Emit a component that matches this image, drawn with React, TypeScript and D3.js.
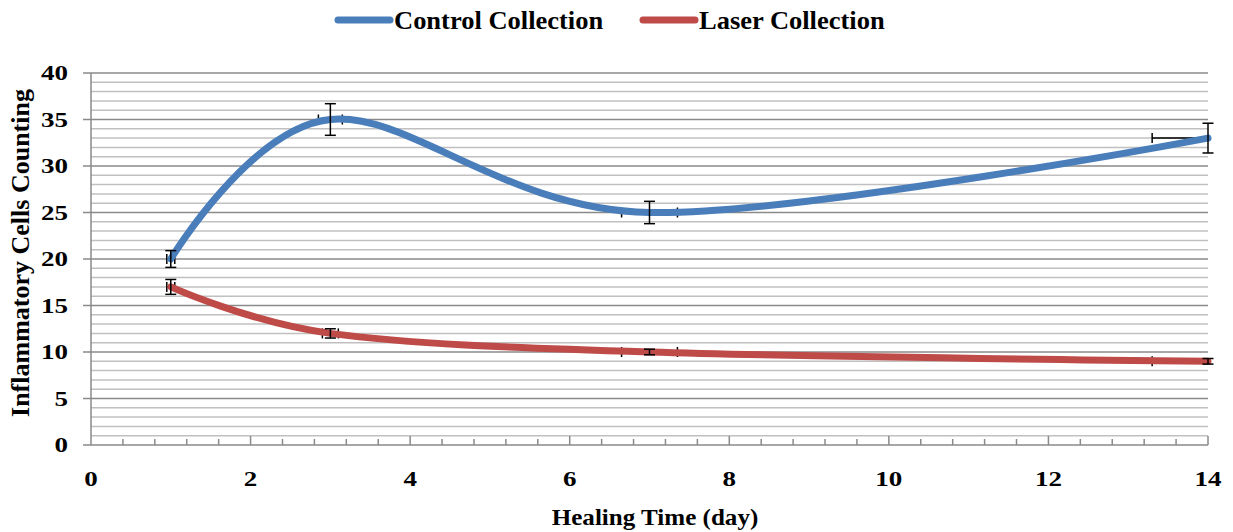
import React, { useEffect, useRef } from "react";
import * as d3 from "d3";

// chart data
const days = [1, 3, 7, 14];
const controlValues = [20, 35, 25, 33];
const laserValues = [17, 12, 10, 9];
const controlErrY = [0.9, 1.7, 1.2, 1.6];
const laserErrY = [0.8, 0.5, 0.3, 0.3];
const controlErrX = [0.05, 0.15, 0.35, 0.7];
const laserErrX = [0.05, 0.1, 0.35, 0.7];
const seriesNames = ["Control Collection", "Laser Collection"];
const seriesColors = ["#4a7ebb", "#be4b48"];
const xTicks = [0, 2, 4, 6, 8, 10, 12, 14];
const yTicks = [0, 5, 10, 15, 20, 25, 30, 35, 40];

const App = () => {
  const ref = useRef<SVGSVGElement>(null);

  useEffect(() => {
    document.body.style.margin = "0";
    const width = 1233;
    const height = 532;
    const margin = { left: 91, right: 25, top: 73, bottom: 87 };
    const font = "'Liberation Serif', 'Times New Roman', serif";

    const svg = d3.select(ref.current);
    svg.selectAll("*").remove();
    svg.attr("width", width).attr("height", height);

    const x = d3.scaleLinear().domain([0, 14]).range([margin.left, width - margin.right]);
    const y = d3.scaleLinear().domain([0, 40]).range([height - margin.bottom, margin.top]);

    // horizontal gridlines (minor every 1, major every 5)
    const grid = svg.append("g");
    grid
      .selectAll("line.minor")
      .data(d3.range(1, 41).filter((v) => v % 5 !== 0))
      .enter()
      .append("line")
      .attr("x1", x(0))
      .attr("x2", x(14))
      .attr("y1", (d) => y(d))
      .attr("y2", (d) => y(d))
      .attr("stroke", "#c0c0c0")
      .attr("stroke-width", 1.5);
    grid
      .selectAll("line.major")
      .data(yTicks.filter((v) => v > 0))
      .enter()
      .append("line")
      .attr("x1", x(0) - 8)
      .attr("x2", x(14))
      .attr("y1", (d) => y(d))
      .attr("y2", (d) => y(d))
      .attr("stroke", "#8a8a8a")
      .attr("stroke-width", 1.5);

    // axes lines
    svg
      .append("line")
      .attr("x1", x(0))
      .attr("x2", x(0))
      .attr("y1", y(40))
      .attr("y2", y(0))
      .attr("stroke", "#8a8a8a")
      .attr("stroke-width", 1.5);
    svg
      .append("line")
      .attr("x1", x(0) - 8)
      .attr("x2", x(14))
      .attr("y1", y(0))
      .attr("y2", y(0))
      .attr("stroke", "#8a8a8a")
      .attr("stroke-width", 1.5);

    // x ticks (minor every 0.4, major every 2)
    svg
      .selectAll("line.xtick")
      .data(d3.range(1, 36).map((i) => i * 0.4))
      .enter()
      .append("line")
      .attr("x1", (d) => x(d))
      .attr("x2", (d) => x(d))
      .attr("y1", (d) => y(0) - (Math.abs(d / 2 - Math.round(d / 2)) < 0.01 ? 9 : 6))
      .attr("y2", y(0))
      .attr("stroke", "#8a8a8a")
      .attr("stroke-width", 1.5);

    // tick labels
    svg
      .selectAll("text.ylab")
      .data(yTicks)
      .enter()
      .append("text")
      .attr("transform", (d) => `translate(68, ${y(d) + 7}) scale(1.35, 1)`)
      .attr("text-anchor", "end")
      .attr("font-family", font)
      .attr("font-weight", "bold")
      .attr("font-size", 20)
      .text((d) => d);
    svg
      .selectAll("text.xlab")
      .data(xTicks)
      .enter()
      .append("text")
      .attr("transform", (d) => `translate(${x(d)}, ${y(0) + 41}) scale(1.35, 1)`)
      .attr("text-anchor", "middle")
      .attr("font-family", font)
      .attr("font-weight", "bold")
      .attr("font-size", 20)
      .text((d) => d);

    // axis titles
    svg
      .append("text")
      .attr("transform", `translate(655, 525) scale(1.09, 1)`)
      .attr("text-anchor", "middle")
      .attr("font-family", font)
      .attr("font-weight", "bold")
      .attr("font-size", 23)
      .text("Healing Time (day)");
    svg
      .append("text")
      .attr("transform", `translate(29, 253) rotate(-90)`)
      .attr("text-anchor", "middle")
      .attr("font-family", font)
      .attr("font-weight", "bold")
      .attr("font-size", 26)
      .text("Inflammatory Cells Counting");

    const series = [
      { values: controlValues, ey: controlErrY, ex: controlErrX, color: seriesColors[0] },
      { values: laserValues, ey: laserErrY, ex: laserErrX, color: seriesColors[1] },
    ];

    svg
      .append("clipPath")
      .attr("id", "plotclip")
      .append("rect")
      .attr("x", x(0))
      .attr("y", y(40))
      .attr("width", x(14) - x(0))
      .attr("height", y(0) - y(40));

    // horizontal error bars (under lines)
    series.forEach((s) => {
      const g = svg.append("g").attr("clip-path", "url(#plotclip)");
      days.forEach((d, i) => {
        const cy = y(s.values[i]);
        const x0 = x(d - s.ex[i]);
        const x1 = x(d + s.ex[i]);
        g.append("line").attr("x1", x0).attr("x2", x1).attr("y1", cy).attr("y2", cy)
          .attr("stroke", "#000").attr("stroke-width", 1.5);
        [x0, x1].forEach((xx) =>
          g.append("line").attr("x1", xx).attr("x2", xx).attr("y1", cy - 5).attr("y2", cy + 5)
            .attr("stroke", "#000").attr("stroke-width", 1.5)
        );
      });
    });

    // smoothed lines
    const line = d3
      .line<number>()
      .x((_, i) => x(days[i]))
      .y((v) => y(v))
      .curve(d3.curveCardinal.tension(0));
    series.forEach((s) => {
      svg
        .append("path")
        .attr("d", line(s.values))
        .attr("fill", "none")
        .attr("stroke", s.color)
        .attr("stroke-width", 7)
        .attr("stroke-linecap", "round");
    });

    // vertical error bars (over lines)
    series.forEach((s) => {
      days.forEach((d, i) => {
        const cx = x(d);
        const y0 = y(s.values[i] - s.ey[i]);
        const y1 = y(s.values[i] + s.ey[i]);
        svg.append("line").attr("x1", cx).attr("x2", cx).attr("y1", y0).attr("y2", y1)
          .attr("stroke", "#000").attr("stroke-width", 1.5);
        [y0, y1].forEach((yy) =>
          svg.append("line").attr("x1", cx - 5.5).attr("x2", cx + 5.5).attr("y1", yy).attr("y2", yy)
            .attr("stroke", "#000").attr("stroke-width", 1.5)
        );
      });
    });

    // legend
    const legendX = [338, 643];
    seriesNames.forEach((name, i) => {
      const lg = svg.append("g").attr("transform", `translate(${legendX[i]}, 20)`);
      lg.append("line")
        .attr("x1", 0)
        .attr("x2", 52)
        .attr("y1", 0)
        .attr("y2", 0)
        .attr("stroke", seriesColors[i])
        .attr("stroke-width", 7)
        .attr("stroke-linecap", "round");
      lg.append("text")
        .attr("transform", `translate(56, 9) scale(1.06, 1)`)
        .attr("font-family", font)
        .attr("font-weight", "bold")
        .attr("font-size", 25)
        .text(name);
    });
  }, []);

  return <svg ref={ref} style={{ display: "block" }}></svg>;
};

export default App;
